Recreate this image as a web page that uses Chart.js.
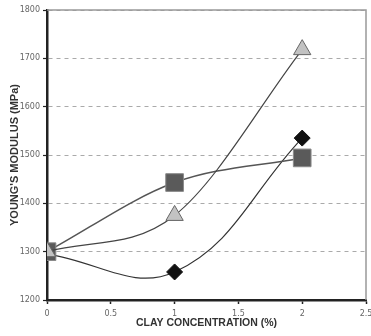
<!DOCTYPE html>
<html>
<head>
<meta charset="utf-8">
<script src="https://cdn.jsdelivr.net/npm/chart.js@4.4.0/dist/chart.umd.min.js"></script>
<style>
html,body{margin:0;padding:0;background:#fff;}
#c{display:block;}
</style>
</head>
<body>
<canvas id="c" width="371" height="336"></canvas>
<script>
const clayConc = [0, 1, 2];
const triangleSeries = [1300, 1375, 1718];
const squareSeries = [1300, 1443, 1494];
const diamondSeries = [1295, 1258, 1535];
const xTicks = [0, 0.5, 1, 1.5, 2, 2.5];
const yTicks = [1200, 1300, 1400, 1500, 1600, 1700, 1800];

function pts(vals){ return clayConc.map((x,i)=>({x:x,y:vals[i]})); }

const frame = {
  id:'frame',
  beforeDatasetsDraw(chart){
    const {ctx, chartArea:a} = chart;
    ctx.save();
    ctx.strokeStyle = '#999';
    ctx.lineWidth = 1.5;
    ctx.beginPath();
    ctx.moveTo(a.left, a.top);
    ctx.lineTo(a.right, a.top);
    ctx.lineTo(a.right, a.bottom);
    ctx.stroke();
    ctx.restore();
  }
};

new Chart(document.getElementById('c'), {
  type: 'line',
  data: {
    datasets: [
      {
        label: 'triangle',
        data: pts(triangleSeries),
        borderColor: '#444',
        borderWidth: 1.2,
        cubicInterpolationMode: 'monotone',
        pointStyle: 'triangle',
        pointRadius: 10,
        pointBackgroundColor: '#c2c2c2',
        pointBorderColor: '#666',
        pointBorderWidth: 1
      },
      {
        label: 'square',
        data: pts(squareSeries),
        borderColor: '#555',
        borderWidth: 1.5,
        cubicInterpolationMode: 'monotone',
        pointStyle: 'rect',
        pointRadius: 12.5,
        pointBackgroundColor: '#5a5a5a',
        pointBorderColor: '#8a8a8a',
        pointBorderWidth: 1
      },
      {
        label: 'diamond',
        data: pts(diamondSeries),
        borderColor: '#333',
        borderWidth: 1.2,
        tension: 0.4,
        pointStyle: 'rectRot',
        pointRadius: 8,
        pointBackgroundColor: '#111',
        pointBorderColor: '#111',
        pointBorderWidth: 1
      }
    ]
  },
  options: {
    responsive: false,
    animation: false,
    layout: { autoPadding: false, padding: { top: 10, right: 5, left: 0, bottom: 4 } },
    plugins: { legend: { display: false }, tooltip: { enabled: false } },
    scales: {
      x: {
        type: 'linear',
        min: 0, max: 2.5,
        afterBuildTicks(s){ s.ticks = xTicks.map(v=>({value:v})); },
        afterFit(s){ s.height = 32; s.paddingLeft = 0; s.paddingRight = 0; },
        ticks: {
          color: '#666',
          font: { family: 'DejaVu Sans', size: 8 },
          padding: 5,
          maxRotation: 0,
          autoSkip: false,
          callback: v => String(v)
        },
        grid: { drawOnChartArea: false, drawTicks: true, tickLength: 4, tickColor: '#222', tickWidth: 1.5 },
        border: { display: true, color: '#222', width: 2.5 },
        title: {
          display: true,
          text: 'CLAY CONCENTRATION (%)',
          color: '#333',
          font: { family: 'Liberation Sans', size: 10.5, weight: 'bold' },
          padding: { top: 1, bottom: 3 }
        }
      },
      y: {
        type: 'linear',
        min: 1200, max: 1800,
        afterBuildTicks(s){ s.ticks = yTicks.map(v=>({value:v})); },
        afterFit(s){ s.width = 47; s.paddingTop = 0; s.paddingBottom = 0; },
        ticks: {
          color: '#666',
          font: { family: 'DejaVu Sans', size: 8 },
          padding: 3,
          autoSkip: false,
          callback: v => String(v)
        },
        grid: { color: '#aaa', lineWidth: 1, drawTicks: true, tickLength: 4, tickColor: '#222', tickWidth: 1.2 },
        border: { display: true, color: '#222', width: 2.5, dash: [4, 4] },
        title: {
          display: true,
          text: "YOUNG'S MODULUS (MPa)",
          color: '#333',
          font: { family: 'Liberation Sans', size: 11, weight: 'bold' },
          padding: { top: 8, bottom: 0 }
        }
      }
    }
  },
  plugins: [frame]
});
</script>
</body>
</html>
